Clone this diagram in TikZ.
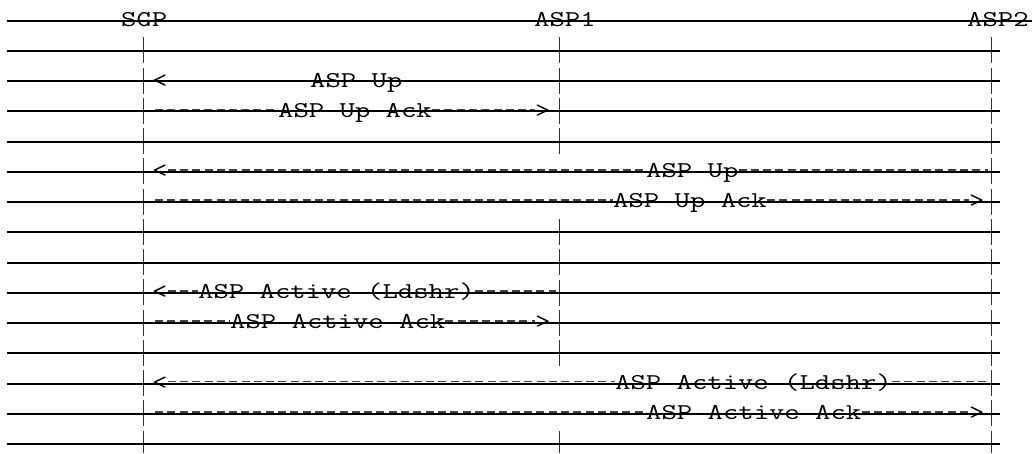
\documentclass[tikz,border=0pt]{standalone}
\usepackage{fontspec}
\newcommand{\sx}[1]{\scalebox{1.32}[1]{#1}}
\begin{document}
\begin{tikzpicture}[x=1pt,y=-1pt,
  strike/.style={line width=2pt, black},
  life/.style={line width=1.3pt, black!80, dash pattern=on 26pt off 4.25pt},
  msg/.style={line width=1.4pt, black!75, dash pattern=on 8pt off 4.3pt},
  lbl/.style={anchor=base west, inner sep=0pt, font=\fontsize{22.6}{24}\selectfont\ttfamily},
]
\useasboundingbox (0,0) rectangle (1035,453);
% headers
\node[lbl] (sgp)  at (121,26.4) {\sx{SGP}};
\node[lbl] (asp1) at (534,26.4) {\sx{ASP1}};
\node[lbl] (asp2) at (967,26.4) {\sx{ASP2}};
% lifelines
\coordinate (sgpT) at (143.3,37.3);
\coordinate (sgpB) at (143.3,453);
\coordinate (a1T) at (559.3,37.3);
\coordinate (a1B) at (559.3,154.3);
\coordinate (a1T2) at (559.3,219.1);
\coordinate (a1B2) at (559.3,365.9);
\coordinate (a1T3) at (559.3,430.8);
\coordinate (a1B3) at (559.3,453);
\coordinate (a2T) at (991.7,37.3);
\coordinate (a2B) at (991.7,453);
\draw[life] (sgpT) -- (sgpB);
\draw[life] (a1T) -- (a1B);
\draw[life] (a1T2) -- (a1B2);
\draw[life] (a1T3) -- (a1B3);
\draw[life] (a2T) -- (a2B);
% row 2: <  ASP Up
\node[lbl] (lt2) at (152,87) {\sx{<}};
\node[lbl] (m2) at (310,87) {\sx{ASP Up}};
% row 3: ----ASP Up Ack---->
\coordinate (s3) at (155,109.4);
\node[lbl] (m3) at (278,117.2) {\sx{ASP Up Ack}};
\node[lbl] (gt3) at (535,117.2) {\sx{>}};
\draw[msg] (s3) -- (m3.west |- s3);
\draw[msg] (m3.east |- s3) -- (gt3.west |- s3);
% row 5: <----ASP Up-----|
\node[lbl] (lt5) at (152,177.7) {\sx{<}};
\coordinate (e5) at (988,169.9);
\node[lbl] (m5) at (646,177.7) {\sx{ASP Up}};
\draw[msg] (lt5.east |- e5) -- (m5.west |- e5);
\draw[msg] (m5.east |- e5) -- (e5);
% row 6: ----ASP Up Ack---->
\coordinate (s6) at (155,200.1);
\node[lbl] (m6) at (613,207.9) {\sx{ASP Up Ack}};
\node[lbl] (gt6) at (969,207.9) {\sx{>}};
\draw[msg] (s6) -- (m6.west |- s6);
\draw[msg] (m6.east |- s6) -- (gt6.west |- s6);
% row 9: <--ASP Active (Ldshr)-----|
\node[lbl] (lt9) at (152,298.7) {\sx{<}};
\coordinate (e9) at (556,290.9);
\node[lbl] (m9) at (198,298.7) {\sx{ASP Active (Ldshr)}};
\draw[msg] (lt9.east |- e9) -- (m9.west |- e9);
\draw[msg] (m9.east |- e9) -- (e9);
% row 10: -----ASP Active Ack------>
\coordinate (s10) at (155,321.1);
\node[lbl] (m10) at (230,328.9) {\sx{ASP Active Ack}};
\node[lbl] (gt10) at (535,328.9) {\sx{>}};
\draw[msg] (s10) -- (m10.west |- s10);
\draw[msg] (m10.east |- s10) -- (gt10.west |- s10);
% row 12: <-----ASP Active (Ldshr)-----|
\node[lbl] (lt12) at (152,389.4) {\sx{<}};
\coordinate (e12) at (988,381.6);
\node[lbl] (m12) at (615,389.4) {\sx{ASP Active (Ldshr)}};
\draw[msg] (lt12.east |- e12) -- (m12.west |- e12);
\draw[msg] (m12.east |- e12) -- (e12);
% row 13: -----ASP Active Ack------>
\coordinate (s13) at (155,411.9);
\node[lbl] (m13) at (646,419.7) {\sx{ASP Active Ack}};
\node[lbl] (gt13) at (969,419.7) {\sx{>}};
\draw[msg] (s13) -- (m13.west |- s13);
\draw[msg] (m13.east |- s13) -- (gt13.west |- s13);
% strike lines
\draw[strike] (7,20.7) -- (1032,20.7);
\foreach \k in {1,...,14}
  \draw[strike] (7,{20.7+30.25*\k}) -- (1000,{20.7+30.25*\k});
\end{tikzpicture}
\end{document}
